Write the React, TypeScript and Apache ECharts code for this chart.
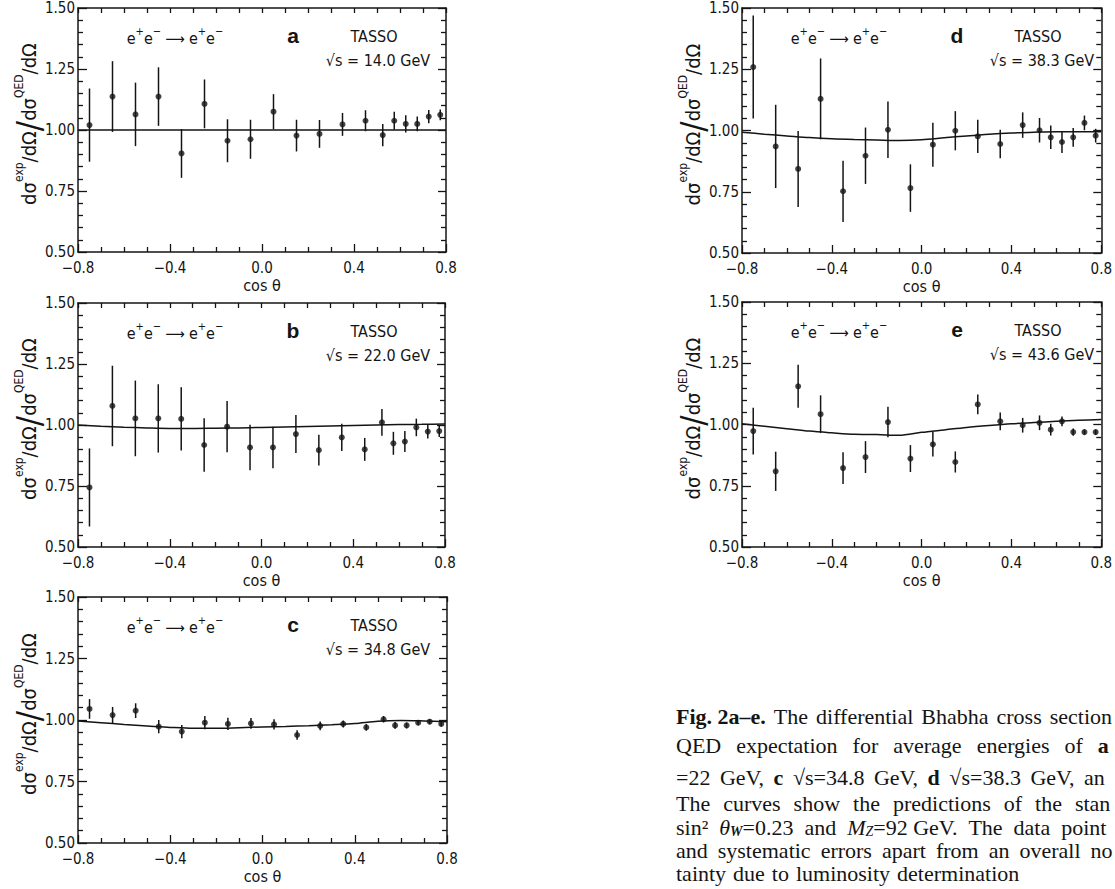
import React, { useEffect, useRef } from 'react';
import * as echarts from 'echarts';

// ---------------- data ----------------
const cosTheta = [-0.75, -0.65, -0.55, -0.45, -0.35, -0.25, -0.15, -0.05, 0.05, 0.15, 0.25, 0.35, 0.45, 0.525, 0.575, 0.625, 0.675, 0.725, 0.775];

const ratio14 = [1.02, 1.137, 1.064, 1.137, 0.904, 1.107, 0.956, 0.962, 1.075, 0.977, 0.984, 1.023, 1.038, 0.979, 1.038, 1.025, 1.025, 1.055, 1.062];
const err14 = [0.15, 0.145, 0.13, 0.12, 0.1, 0.1, 0.088, 0.08, 0.072, 0.065, 0.057, 0.047, 0.043, 0.046, 0.037, 0.035, 0.03, 0.027, 0.022];

const ratio22 = [0.744, 1.078, 1.027, 1.027, 1.025, 0.918, 0.993, 0.908, 0.908, 0.963, 0.897, 0.949, 0.9, 1.011, 0.925, 0.932, 0.99, 0.973, 0.975];
const err22 = [0.16, 0.165, 0.155, 0.14, 0.13, 0.11, 0.105, 0.093, 0.085, 0.078, 0.063, 0.056, 0.047, 0.055, 0.047, 0.043, 0.036, 0.028, 0.024];

const ratio348 = [1.045, 1.02, 1.038, 0.973, 0.953, 0.989, 0.984, 0.986, 0.982, 0.939, 0.976, 0.984, 0.97, 1.003, 0.978, 0.978, 0.989, 0.993, 0.984];
const err348 = [0.04, 0.033, 0.03, 0.027, 0.027, 0.027, 0.025, 0.022, 0.021, 0.019, 0.018, 0.014, 0.013, 0.013, 0.014, 0.012, 0.01, 0.01, 0.01];

const ratio383 = [1.259, 0.935, 0.843, 1.129, 0.752, 0.897, 1.003, 0.765, 0.942, 0.999, 0.976, 0.945, 1.022, 1.001, 0.972, 0.953, 0.972, 1.031, 0.979];
const err383 = [0.21, 0.17, 0.155, 0.165, 0.125, 0.115, 0.115, 0.097, 0.09, 0.08, 0.068, 0.058, 0.052, 0.05, 0.048, 0.045, 0.038, 0.03, 0.028];

const ratio436 = [0.973, 0.809, 1.156, 1.042, 0.822, 0.867, 1.01, 0.861, 0.919, 0.847, 1.082, 1.013, 0.997, 1.007, 0.979, 1.013, 0.969, 0.969, 0.969];
const err436 = [0.095, 0.08, 0.088, 0.077, 0.065, 0.065, 0.062, 0.055, 0.05, 0.043, 0.04, 0.036, 0.03, 0.03, 0.024, 0.02, 0.015, 0.01, 0.01];

// standard model prediction curves
const curveCos = [-0.8, -0.7, -0.6, -0.5, -0.4, -0.3, -0.2, -0.1, 0.0, 0.1, 0.2, 0.3, 0.4, 0.5, 0.6, 0.7, 0.8];
const sm14 = [1.0, 1.0, 1.0, 1.0, 1.0, 1.0, 1.0, 1.0, 1.0, 1.0, 1.0, 1.0, 1.0, 1.0, 1.0, 1.0, 1.0];
const sm22 = [1.0, 0.995, 0.991, 0.988, 0.986, 0.986, 0.987, 0.988, 0.99, 0.992, 0.994, 0.996, 0.998, 1.0, 1.002, 1.003, 1.004];
const sm348 = [0.996, 0.989, 0.982, 0.976, 0.97, 0.966, 0.966, 0.969, 0.972, 0.974, 0.977, 0.981, 0.986, 0.995, 0.998, 0.996, 0.993];
const sm383 = [0.993, 0.985, 0.978, 0.971, 0.966, 0.963, 0.961, 0.959, 0.962, 0.97, 0.978, 0.985, 0.99, 0.993, 0.995, 0.995, 0.995];
const sm436 = [1.003, 0.993, 0.983, 0.973, 0.966, 0.96, 0.959, 0.956, 0.968, 0.978, 0.988, 0.996, 1.003, 1.008, 1.013, 1.017, 1.02];

const panelLetters = ['a', 'b', 'c', 'd', 'e'];
const energies = ['14.0', '22.0', '34.8', '38.3', '43.6'];
const ratios = [ratio14, ratio22, ratio348, ratio383, ratio436];
const errors = [err14, err22, err348, err383, err436];
const curves = [sm14, sm22, sm348, sm383, sm436];

const captionLines = [
  { text: '{b|Fig. 2a–e.}~The~differential~Bhabha~cross~section', gap: 8 },
  { text: 'QED~expectation~for~average~energies~of~{b|a}', gap: 15 },
  { text: '=22~GeV,~{b|c}~√s=34.8~GeV,~{b|d}~√s=38.3~GeV,~an', gap: 9.5 },
  { text: 'The~curves~show~the~predictions~of~the~stan', gap: 13 },
  { text: 'sin²~{i|θ}{sb|W}=0.23~and~{i|M}{si|Z}=92 GeV.~The~data~point', gap: 11 },
  { text: 'and~systematic~errors~apart~from~an~overall~no', gap: 10 },
  { text: 'tainty~due~to~luminosity~determination', gap: 7 },
];

// ---------------- layout / style ----------------
const INK = '#141414';
const SANS = "'DejaVu Sans Condensed', 'DejaVu Sans', sans-serif";
const SERIF = "'Liberation Serif', 'DejaVu Serif', serif";

const boxes = [
  { left: 78, top: 8, width: 368, height: 244 },
  { left: 78, top: 303, width: 367, height: 244 },
  { left: 78, top: 597, width: 369, height: 246 },
  { left: 742, top: 8, width: 368, height: 245 },
  { left: 742, top: 302, width: 367, height: 245 },
];
const captionX = 676;
const captionY = [716, 745, 777, 803, 827, 850, 873];

function fmtX(v: number) {
  const r = Math.round(v * 10) / 10;
  return r < 0 ? '−' + Math.abs(r).toFixed(1) : Math.abs(r).toFixed(1);
}

function buildOption() {
  const lineStyle = { color: INK, width: 1.5 };
  const tickStyle = { color: INK, width: 1.3 };
  const grid: any[] = [];
  const xAxis: any[] = [];
  const yAxis: any[] = [];
  const series: any[] = [];
  const graphic: any[] = [];

  boxes.forEach((b, i) => {
    grid.push({ left: b.left, top: b.top, width: b.width, height: b.height });
    xAxis.push({
      type: 'value', gridIndex: i, position: 'bottom', min: -0.8, max: 0.8, interval: 0.4,
      axisLine: { show: true, onZero: false, lineStyle },
      axisTick: { show: true, inside: true, length: 8, lineStyle: tickStyle },
      minorTick: { show: true, splitNumber: 4, length: 5, lineStyle: tickStyle },
      splitLine: { show: false }, minorSplitLine: { show: false },
      axisLabel: { show: true, formatter: fmtX, color: INK, fontSize: 15, fontFamily: SANS, margin: 8 },
      name: 'cos θ', nameLocation: 'middle', nameGap: 25,
      nameTextStyle: { color: INK, fontSize: 16, fontFamily: SANS },
    });
    xAxis.push({
      type: 'value', gridIndex: i, position: 'top', min: -0.8, max: 0.8, interval: 0.1,
      axisLine: { show: true, onZero: false, lineStyle },
      axisTick: { show: true, inside: true, length: 5, lineStyle: tickStyle },
      axisLabel: { show: false }, splitLine: { show: false },
    });
    yAxis.push({
      type: 'value', gridIndex: i, position: 'left', min: 0.5, max: 1.5, interval: 0.25,
      axisLine: { show: true, onZero: false, lineStyle },
      axisTick: { show: true, inside: true, length: 9, lineStyle: tickStyle },
      minorTick: { show: true, splitNumber: 5, length: 5, lineStyle: tickStyle },
      splitLine: { show: false }, minorSplitLine: { show: false },
      axisLabel: { show: true, formatter: (v: number) => v.toFixed(2), color: INK, fontSize: 15, fontFamily: SANS, margin: 3 },
    });
    yAxis.push({
      type: 'value', gridIndex: i, position: 'right', min: 0.5, max: 1.5, interval: 0.25,
      axisLine: { show: true, onZero: false, lineStyle },
      axisTick: { show: true, inside: true, length: 8, lineStyle: tickStyle },
      minorTick: { show: true, splitNumber: 5, length: 5, lineStyle: tickStyle },
      splitLine: { show: false }, axisLabel: { show: false },
    });

    const r = ratios[i];
    const e = errors[i];
    const c = curves[i];
    series.push({
      type: 'line', xAxisIndex: 2 * i, yAxisIndex: 2 * i,
      data: curveCos.map((x, j) => [x, c[j]]),
      smooth: 0.3, symbol: 'none', showSymbol: false, silent: true,
      lineStyle: { color: INK, width: 1.5 }, z: 2,
    });
    series.push({
      type: 'custom', xAxisIndex: 2 * i, yAxisIndex: 2 * i,
      data: cosTheta.map((x, j) => [x, r[j] - e[j], r[j] + e[j]]),
      encode: { x: 0, y: [1, 2] },
      renderItem: (params: any, api: any) => {
        const p1 = api.coord([api.value(0), api.value(1)]);
        const p2 = api.coord([api.value(0), api.value(2)]);
        return {
          type: 'line',
          shape: { x1: p1[0], y1: p1[1], x2: p2[0], y2: p2[1] },
          style: { stroke: INK, lineWidth: 1.5 },
        };
      },
      z: 3, silent: true,
    });
    series.push({
      type: 'scatter', xAxisIndex: 2 * i, yAxisIndex: 2 * i,
      data: cosTheta.map((x, j) => [x, r[j]]),
      symbol: 'circle', symbolSize: 6, itemStyle: { color: INK }, z: 4, silent: true,
    });

    // annotations
    graphic.push({
      type: 'text', x: b.left + 97, y: b.top + 28,
      style: {
        text: '{n|e}{s|+}{n|e}{s|−}{a| ⟶ }{n|e}{s|+}{n|e}{s|−}',
        align: 'center', verticalAlign: 'middle', fill: INK, fontFamily: SANS, fontSize: 16,
        rich: {
          n: { fontSize: 16, fontFamily: SANS, fill: INK, lineHeight: 20, verticalAlign: 'bottom' },
          s: { fontSize: 11, fontFamily: SANS, fill: INK, lineHeight: 12, verticalAlign: 'top' },
          a: { fontSize: 15, fontFamily: SANS, fill: INK, lineHeight: 20, verticalAlign: 'bottom' },
        },
      },
    });
    graphic.push({
      type: 'text', x: b.left + 215, y: b.top + 27,
      style: { text: panelLetters[i], align: 'center', verticalAlign: 'middle', fill: INK, fontFamily: "'Liberation Sans', Arial, sans-serif", fontWeight: 'bold', fontSize: 21 },
    });
    graphic.push({
      type: 'text', x: b.left + 296, y: b.top + 28,
      style: { text: 'TASSO', align: 'center', verticalAlign: 'middle', fill: INK, fontFamily: SANS, fontSize: 16 },
    });
    graphic.push({
      type: 'text', x: b.left + 300, y: b.top + 52,
      style: { text: '√s = ' + energies[i] + ' GeV', align: 'center', verticalAlign: 'middle', fill: INK, fontFamily: SANS, fontSize: 16 },
    });
    graphic.push({
      type: 'text', x: b.left - 49, y: b.top + b.height / 2 - 6, rotation: Math.PI / 2,
      style: {
        text: '{n|dσ}{s|exp}{n|/dΩ}{b|/}{n|dσ}{s|QED}{n|/dΩ}',
        align: 'center', verticalAlign: 'middle', fill: INK, fontFamily: SANS, fontSize: 20,
        rich: {
          n: { fontSize: 20, fontFamily: SANS, fill: INK, lineHeight: 32, verticalAlign: 'middle' },
          s: { fontSize: 12, fontFamily: SANS, fill: INK, lineHeight: 18, verticalAlign: 'top' },
          b: { fontSize: 34, fontFamily: SANS, fill: INK, lineHeight: 32, verticalAlign: 'middle' },
        },
      },
    });
  });

  captionLines.forEach((ln, k) => {
    graphic.push({
      type: 'text', x: captionX, y: captionY[k],
      style: {
        text: ln.text.split('~').join('{g| }'),
        align: 'left', verticalAlign: 'middle', fill: INK, fontFamily: SERIF, fontSize: 22, lineHeight: 22,
        rich: {
          g: { width: ln.gap, fontSize: 22, fontFamily: SERIF, lineHeight: 22 },
          b: { fontWeight: 'bold', fontSize: 22, fontFamily: SERIF, fill: INK, lineHeight: 22 },
          i: { fontStyle: 'italic', fontSize: 22, fontFamily: SERIF, fill: INK, lineHeight: 22 },
          sb: { fontStyle: 'italic', fontWeight: 'bold', fontSize: 14, fontFamily: SERIF, fill: INK, lineHeight: 12, verticalAlign: 'bottom' },
          si: { fontStyle: 'italic', fontSize: 14, fontFamily: SERIF, fill: INK, lineHeight: 12, verticalAlign: 'bottom' },
        },
      },
    });
  });

  return {
    animation: false,
    backgroundColor: '#ffffff',
    grid, xAxis, yAxis, series, graphic,
  };
}

export default function App() {
  const ref = useRef<HTMLDivElement>(null);
  useEffect(() => {
    document.body.style.margin = '0';
    if (!ref.current) return;
    const chart = echarts.init(ref.current, null, { renderer: 'svg' });
    chart.setOption(buildOption() as any);
    return () => chart.dispose();
  }, []);
  return <div ref={ref} style={{ width: 1115, height: 889, background: '#fff' }} />;
}
